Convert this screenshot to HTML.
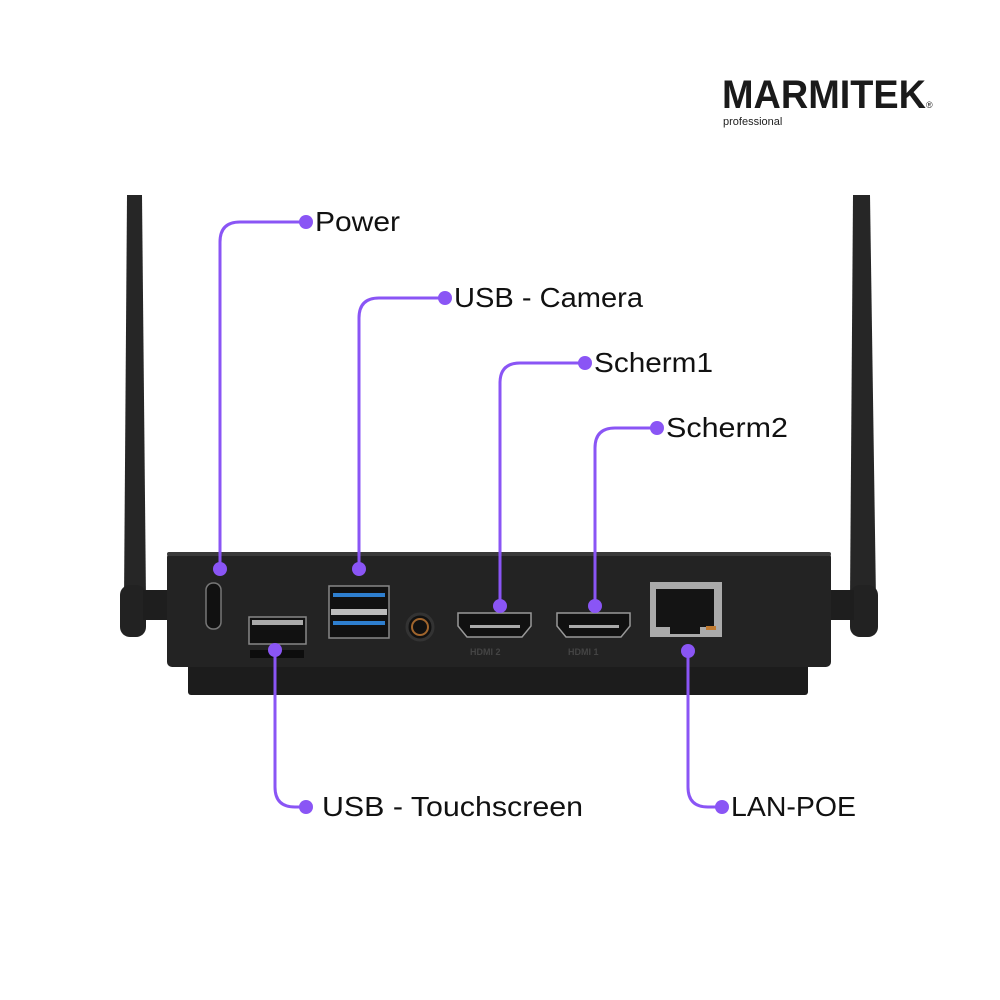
<!DOCTYPE html>
<html><head><meta charset="utf-8"><style>
html,body{margin:0;padding:0;background:#fff;}
svg{display:block;}
text{font-family:"Liberation Sans",sans-serif;}
</style></head><body>
<svg width="1000" height="1000" viewBox="0 0 1000 1000" xmlns="http://www.w3.org/2000/svg">
<rect width="1000" height="1000" fill="#fff"/>
<text x="722" y="108" font-size="40" font-weight="bold" fill="#1a1a1a" textLength="204" lengthAdjust="spacingAndGlyphs">MARMITEK</text>
<text x="926" y="108" font-size="9" fill="#1a1a1a">®</text>
<text x="723" y="125" font-size="11" fill="#222">professional</text>

<path d="M127 195 L142 195 L146 600 L124 600 Z" fill="#262626"/>
<rect x="120" y="585" width="26" height="52" rx="10" fill="#222"/>
<rect x="143" y="590" width="26" height="30" fill="#1e1e1e"/>
<path d="M853 195 L870 195 L876 600 L850 600 Z" fill="#262626"/>
<rect x="850" y="585" width="28" height="52" rx="10" fill="#222"/>
<rect x="828" y="590" width="26" height="30" fill="#1e1e1e"/>

<rect x="188" y="655" width="620" height="40" rx="3" fill="#1c1c1c"/>
<rect x="167" y="552" width="664" height="115" rx="5" fill="#232323"/>
<rect x="167" y="552" width="664" height="4" rx="2" fill="#3a3a3a"/>

<rect x="206" y="583" width="15" height="46" rx="7" fill="#111" stroke="#777" stroke-width="1.5"/>
<rect x="249" y="617" width="57" height="27" fill="#111" stroke="#888" stroke-width="1.5"/>
<rect x="252" y="620" width="51" height="5" fill="#aaa"/>
<rect x="250" y="650" width="54" height="8" fill="#0d0d0d"/>
<rect x="329" y="586" width="60" height="52" fill="#111" stroke="#888" stroke-width="1.5"/>
<rect x="331" y="609" width="56" height="6" fill="#bbb"/>
<rect x="333" y="593" width="52" height="4" fill="#2e7fd0"/>
<rect x="333" y="621" width="52" height="4" fill="#2e7fd0"/>
<circle cx="420" cy="627" r="13" fill="#111" stroke="#333" stroke-width="3"/>
<circle cx="420" cy="627" r="8" fill="#111" stroke="#a0652d" stroke-width="2"/>
<path d="M458 613 H531 V626 L522 637 H467 L458 626 Z" fill="#111" stroke="#999" stroke-width="1.5"/>
<rect x="470" y="625" width="50" height="3" fill="#aaa"/>
<path d="M557 613 H630 V626 L621 637 H566 L557 626 Z" fill="#111" stroke="#999" stroke-width="1.5"/>
<rect x="569" y="625" width="50" height="3" fill="#aaa"/>
<rect x="650" y="582" width="72" height="55" fill="#aaa"/>
<rect x="656" y="589" width="58" height="38" fill="#141414"/>
<rect x="670" y="620" width="30" height="14" fill="#141414"/>
<rect x="706" y="626" width="10" height="4" fill="#c07a30"/>
<g font-size="9" fill="#444" font-weight="bold">
<text x="470" y="655">HDMI 2</text><text x="568" y="655">HDMI 1</text>
</g>

<g fill="none" stroke="#8a55f5" stroke-width="3">
<path d="M220 569 V242 Q220 222 240 222 H306"/>
<path d="M359 569 V318 Q359 298 379 298 H445"/>
<path d="M500 606 V383 Q500 363 520 363 H585"/>
<path d="M595 606 V448 Q595 428 615 428 H657"/>
<path d="M275 650 V787 Q275 807 295 807 H306"/>
<path d="M688 651 V787 Q688 807 708 807 H722"/>
</g>
<g fill="#8a55f5">
<circle cx="220" cy="569" r="7"/><circle cx="306" cy="222" r="7"/>
<circle cx="359" cy="569" r="7"/><circle cx="445" cy="298" r="7"/>
<circle cx="500" cy="606" r="7"/><circle cx="585" cy="363" r="7"/>
<circle cx="595" cy="606" r="7"/><circle cx="657" cy="428" r="7"/>
<circle cx="275" cy="650" r="7"/><circle cx="306" cy="807" r="7"/>
<circle cx="688" cy="651" r="7"/><circle cx="722" cy="807" r="7"/>
</g>
<g font-size="28" fill="#111">
<text x="315" y="231" textLength="85" lengthAdjust="spacingAndGlyphs">Power</text>
<text x="454" y="307" textLength="189" lengthAdjust="spacingAndGlyphs">USB - Camera</text>
<text x="594" y="372" textLength="119" lengthAdjust="spacingAndGlyphs">Scherm1</text>
<text x="666" y="437" textLength="122" lengthAdjust="spacingAndGlyphs">Scherm2</text>
<text x="322" y="816" textLength="261" lengthAdjust="spacingAndGlyphs">USB - Touchscreen</text>
<text x="731" y="816" textLength="125" lengthAdjust="spacingAndGlyphs">LAN-POE</text>
</g>
</svg>
</body></html>
